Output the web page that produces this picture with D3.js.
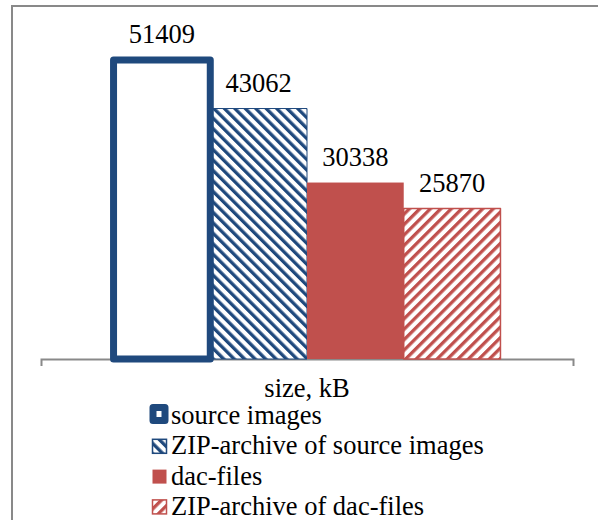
<!DOCTYPE html>
<html>
<head>
<meta charset="utf-8">
<script src="https://cdn.jsdelivr.net/npm/d3@7"></script>
<style>
  html, body { margin: 0; padding: 0; background: #fff; }
  svg { display: block; }
</style>
</head>
<body>
<svg id="chart" width="598" height="520"></svg>
<script>
const categories = ["size, kB"];
const seriesNames = ["source images", "ZIP-archive of source images", "dac-files", "ZIP-archive of dac-files"];
const seriesValues = [51409, 43062, 30338, 25870];
const yMax = 60000;

const blue = "#1F497D", red = "#C0504D", gray = "#898989";
const font = '"Liberation Serif"';
const fs = "26.5px";

const svg = d3.select("#chart");
const defs = svg.append("defs");

function stripes(id, color, angle) {
  const p = defs.append("pattern")
    .attr("id", id).attr("patternUnits", "userSpaceOnUse")
    .attr("width", 7.4).attr("height", 7.4)
    .attr("patternTransform", `rotate(${angle})`);
  p.append("rect").attr("width", 7.4).attr("height", 7.4).attr("fill", "#fff");
  p.append("rect").attr("width", 3.3).attr("height", 7.4).attr("fill", color);
}
stripes("pBlue", blue, -45);
stripes("pRed", red, 45);

const styles = [
  { fill: "#fff", stroke: blue, sw: 7 },
  { fill: "url(#pBlue)", stroke: blue, sw: 1 },
  { fill: red, stroke: red, sw: 0 },
  { fill: "url(#pRed)", stroke: red, sw: 1.5 }
];

// outer frame (extends beyond the visible area)
svg.append("rect").attr("x", 12).attr("y", 6).attr("width", 700).attr("height", 700)
  .attr("fill", "none").attr("stroke", gray).attr("stroke-width", 2);

const baseY = 359;
const y = d3.scaleLinear().domain([0, yMax]).range([baseY, 10]);
const x0 = d3.scaleBand().domain(categories).range([41, 573]).paddingInner(0).paddingOuter(0.1875);
const x1 = d3.scaleBand().domain(seriesNames).range([0, x0.bandwidth()]).padding(0);

// axis
const axis = d3.axisBottom(x0).tickSizeInner(0).tickSizeOuter(7);
const gAxis = svg.append("g").attr("transform", `translate(0,${baseY})`).call(axis);
gAxis.attr("font-family", null).attr("font-size", null);
gAxis.select(".domain").attr("stroke", gray).attr("stroke-width", 2);
gAxis.selectAll(".tick line").remove();
gAxis.selectAll(".tick text")
  .attr("y", 38).attr("dy", 0)
  .style("font-family", font).style("font-size", fs).attr("fill", "#000");

// bars
const data = seriesNames.map((s, i) => ({ s, v: seriesValues[i], i }));
const order = [1, 2, 3, 0];
const gBars = svg.append("g").attr("transform", `translate(${x0(categories[0])},0)`);
order.forEach(i => {
  const d = data[i];
  const st = styles[i];
  gBars.append("rect")
    .attr("x", x1(d.s)).attr("y", y(d.v))
    .attr("width", x1.bandwidth()).attr("height", baseY - y(d.v))
    .attr("fill", st.fill)
    .attr("stroke", st.sw ? st.stroke : "none")
    .attr("stroke-width", st.sw)
    .attr("stroke-linejoin", "round");
});

// data labels
gBars.selectAll("text.lbl").data(data).join("text")
  .attr("class", "lbl")
  .attr("x", d => x1(d.s) + x1.bandwidth() / 2)
  .attr("y", d => y(d.v) - 17)
  .attr("text-anchor", "middle")
  .style("font-family", font).style("font-size", fs).attr("fill", "#000")
  .text(d => d.v);

// legend
const legend = svg.append("g");
data.forEach((d, i) => {
  const base = 424 + i * 30.3;
  const st = styles[i];
  if (i === 0) {
    legend.append("rect").attr("x", 153).attr("y", base - 16.5).attr("width", 12).attr("height", 13)
      .attr("fill", "#fff").attr("stroke", blue).attr("stroke-width", 7).attr("stroke-linejoin", "round");
  } else {
    legend.append("rect").attr("x", 152.5).attr("y", base - 15).attr("width", 14).attr("height", 14)
      .attr("fill", st.fill)
      .attr("stroke", st.sw ? st.stroke : "none").attr("stroke-width", st.sw ? 1.5 : 0);
  }
  legend.append("text").attr("x", 171).attr("y", base)
    .style("font-family", font).style("font-size", fs).attr("fill", "#000")
    .text(d.s);
});
</script>
</body>
</html>
